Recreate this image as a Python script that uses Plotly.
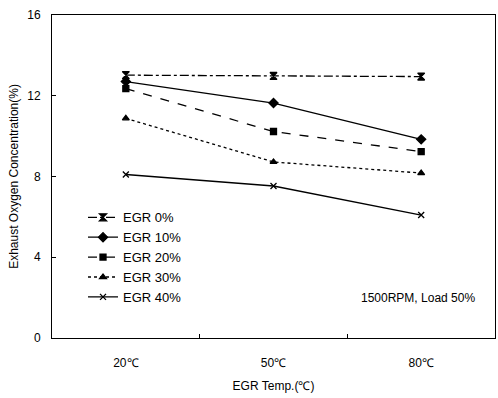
import plotly.graph_objects as go

categories = ["20℃", "50℃", "80℃"]
egr0 = [13.02, 12.98, 12.95]
egr10 = [12.7, 11.64, 9.84]
egr20 = [12.35, 10.23, 9.23]
egr30 = [10.88, 8.72, 8.17]
egr40 = [8.1, 7.53, 6.09]
series_names = ["EGR 0%", "EGR 10%", "EGR 20%", "EGR 30%", "EGR 40%"]
y_ticks = [0, 4, 8, 12, 16]

styles = [
    dict(dash="dashdot", symbol="hourglass", size=7),
    dict(dash="solid", symbol="diamond", size=7),
    dict(dash="dash", symbol="square", size=6),
    dict(dash="dot", symbol="triangle-up", size=6),
    dict(dash="solid", symbol="x-thin-open", size=6),
]

fig = go.Figure()
for name, vals, st in zip(series_names, [egr0, egr10, egr20, egr30, egr40], styles):
    fig.add_trace(go.Scatter(
        x=categories, y=vals, name=name, mode="lines+markers",
        line=dict(color="black", width=1.3, dash=st["dash"]),
        marker=dict(symbol=st["symbol"], size=st["size"], color="black",
                    line=dict(color="black", width=1.3)),
    ))

font_family = "Liberation Sans, Arial, sans-serif"
fig.update_layout(
    width=498, height=398,
    margin=dict(l=52, r=3, t=15, b=60),
    paper_bgcolor="white", plot_bgcolor="white",
    font=dict(family=font_family, size=12, color="black"),
    showlegend=True,
    legend=dict(x=0.07, y=0.42, xanchor="left", yanchor="top",
                bgcolor="rgba(0,0,0,0)", font=dict(size=13),
                tracegroupgap=0, itemwidth=30),
    xaxis=dict(type="category", range=[-0.5, 2.5], showline=True, linecolor="black",
               linewidth=1, mirror=True, ticks="inside", tickson="boundaries",
               ticklen=4, tickcolor="black", showgrid=False, zeroline=False,
               ticklabelstandoff=14,
               title=dict(text="EGR Temp.(℃)", font=dict(size=12), standoff=12)),
    yaxis=dict(range=[0, 16], tickvals=y_ticks, showline=True, linecolor="black",
               linewidth=1, mirror=True, ticks="inside", ticklen=4, tickcolor="black",
               showgrid=False, zeroline=False, ticklabelstandoff=8,
               title=dict(text="Exhaust Oxygen Concentration(%)", font=dict(size=12), standoff=6)),
    annotations=[dict(text="1500RPM, Load 50%", x=0.96, y=0.125, xref="paper", yref="paper",
                      xanchor="right", yanchor="middle", showarrow=False,
                      font=dict(size=12))],
)

fig.write_html("out.html")
